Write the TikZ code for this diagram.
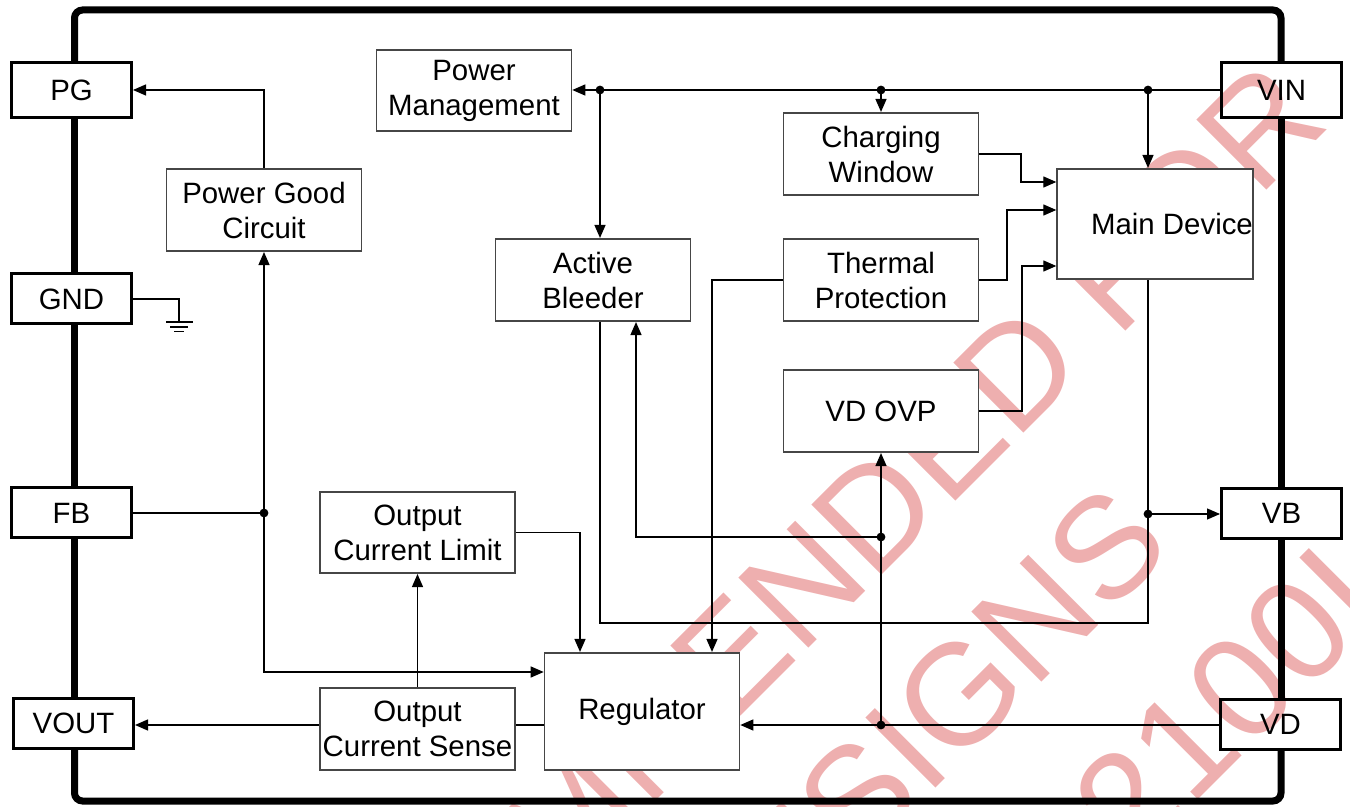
\documentclass[tikz,border=0pt]{standalone}
\usepackage{fontspec}
\setmainfont{Liberation Sans}
\usetikzlibrary{arrows.meta}
\definecolor{wmpink}{RGB}{238,175,175}
\definecolor{boxgray}{RGB}{70,70,70}
\begin{document}
\begin{tikzpicture}[x=0.5pt,y=-0.5pt,
  blk/.style={draw=boxgray, line width=0.8pt, fill=white, minimum width=97.5pt, minimum height=41.25pt, inner sep=0pt, align=center, font=\fontsize{14.7pt}{17.5pt}\selectfont},
  pin/.style={draw=black, line width=1.5pt, minimum width=60pt, minimum height=25pt, inner sep=0pt, font=\fontsize{14.7pt}{17.5pt}\selectfont},
  frameline/.style={line width=3.5pt, line cap=butt},
  wire/.style={line width=0.65pt},
  arr/.style={wire, -{Triangle[length=6.5pt,width=5.5pt]}},
  wm/.style={text=wmpink, font=\fontsize{72pt}{86pt}\selectfont, rotate=45, anchor=base, inner sep=0pt},
  jdot/.style={fill=black}
]
\useasboundingbox (0,0) rectangle (1350,807);
\begin{scope}
\clip (0,0) rectangle (1350,807);
% watermark
\node[wm] (wm1) at (1089,368) {\llap{NOT RECOMMENDED}\rlap{\ FOR}};
\node[wm] (wm2) at (858.5,865.6) {\llap{NEW DE}\rlap{SIGNS}};
\node[wm] (wm3) at (1191,807.6) {\llap{2}\rlap{100I}};
\end{scope}

% pins
\node[pin, minimum height=27.5pt] (pg) at (71.5,90) {PG};
\node[pin] (gnd) at (71.5,299) {GND};
\node[pin] (fb) at (71.5,513) {FB};
\node[pin] (vout) at (73.5,723) {VOUT};
\node[pin, minimum height=27.5pt] (vin) at (1281.5,90) {VIN};
\node[pin] (vb) at (1281.5,513.5) {VB};
\node[pin] (vd) at (1280.5,724) {VD};

% frame
\draw[frameline, rounded corners=4pt] (74.5,0 |- pg.north) -- (74.5,10) -- (1281,10) -- (1281,0 |- vin.north);
\draw[frameline] (74.5,0 |- pg.south) -- (74.5,0 |- gnd.north);
\draw[frameline] (74.5,0 |- gnd.south) -- (74.5,0 |- fb.north);
\draw[frameline] (74.5,0 |- fb.south) -- (74.5,0 |- vout.north);
\draw[frameline, rounded corners=4pt] (74.5,0 |- vout.south) -- (74.5,801) -- (1281,801) -- (1281,0 |- vd.south);
\draw[frameline] (1281,0 |- vd.north) -- (1281,0 |- vb.south);
\draw[frameline] (1281,0 |- vb.north) -- (1281,0 |- vin.south);

% blocks
\node[blk, minimum height=40.75pt] (pm) at (474,90.5) {Power\\Management};
\node[blk] (pgc) at (264,210) {Power Good\\Circuit};
\node[blk] (cw) at (881,154) {Charging\\Window};
\node[blk] (ab) at (593,280) {Active\\Bleeder};
\node[blk] (tp) at (881,280) {Thermal\\Protection};
\node[blk, minimum height=55.25pt] (md) at (1155,224) {\hspace*{17pt}Main Device};
\node[blk] (ovp) at (881,411) {VD OVP};
\node[blk, minimum height=40.75pt] (ocl) at (417.5,532.5) {Output\\Current Limit};
\node[blk] (ocs) at (417.5,729) {Output\\Current Sense};
\node[blk, minimum height=58.75pt] (reg) at (642,711.5) {Regulator};

% junctions
\coordinate (jv1) at (1148,90);
\coordinate (jv2) at (881,90);
\coordinate (jv3) at (600,90);
\coordinate (jfb) at (264,513);
\coordinate (jvb) at (1148,514);
\coordinate (jvd) at (881,725);
\coordinate (jab) at (881,537);
\coordinate (gndpt) at (179,322);

% wires
\draw[arr] (pgc.north) |- (pg.east);
\draw[wire] (gnd.east) -| (gndpt);
\draw[wire] (166,322) -- (193,322) (170,327) -- (188,327) (174,331.5) -- (184,331.5);
\draw[wire] (fb.east) -- (jfb);
\draw[arr] (jfb) -- (pgc.south);
\draw[arr] (jfb) |- (reg.west |- 0,672);
\draw[arr] (ocs.west |- 0,725) -- (vout.east |- 0,725);
\draw[arr] (ocs.north) -- (ocl.south);
\draw[wire] (reg.west |- 0,725) -- (ocs.east |- 0,725);
\draw[arr] (ocl.east) -| (580,0 |- reg.north);
\draw[arr] (vin.west) -- (pm.east |- vin.west);
\draw[arr] (jv1) -- (jv1 |- md.north);
\draw[arr] (jv2) -- (cw.north);
\draw[arr] (jv3) -- (jv3 |- ab.north);
\draw[arr] (cw.east) -| (1021,182) -- (md.west |- 0,182);
\draw[arr] (tp.east) -| (1007,210) -- (md.west |- 0,210);
\draw[arr] (ovp.east) -| (1022,266) -- (md.west |- 0,266);
\draw[arr] (tp.west) -| (712,0 |- reg.north);
\draw[wire] (600,0 |- ab.south) |- (1148,623) -- (1148,0 |- md.south);
\draw[arr] (jvb) -- (vb.west |- jvb);
\draw[arr] (vd.west |- jvd) -- (reg.east |- jvd);
\draw[arr] (jvd) -- (ovp.south);
\draw[arr] (jab) -| (636,0 |- ab.south);

% dots
\foreach \p in {jv1,jv2,jv3,jfb,jvb,jvd,jab}
  \fill[jdot] (\p) circle[radius=2.2pt];
\end{tikzpicture}
\end{document}
